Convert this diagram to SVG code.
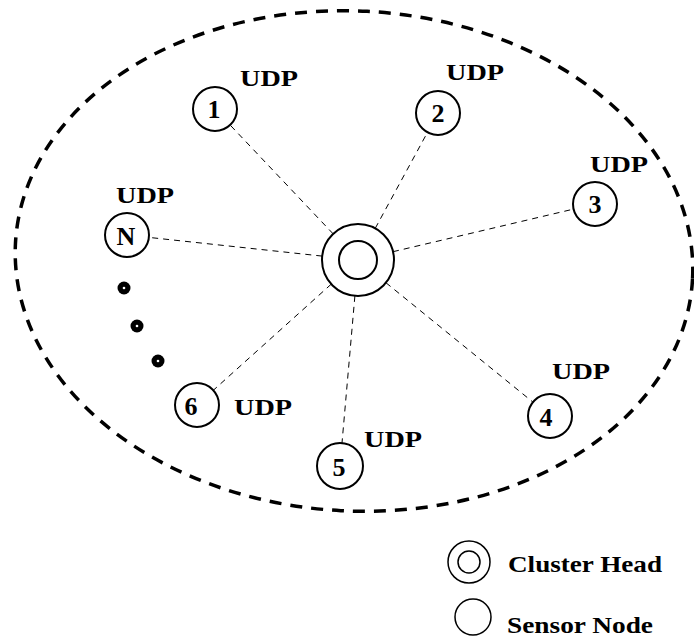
<svg xmlns="http://www.w3.org/2000/svg" width="694" height="637" viewBox="0 0 694 637">
<style>
.bd{fill:none;stroke:#000;stroke-width:3.5;stroke-dasharray:12 9}
.ln{stroke:#000;stroke-width:1;stroke-dasharray:6 5;fill:none}
.nd{fill:#fff;stroke:#000;stroke-width:2}
.lg{fill:#fff;stroke:#000;stroke-width:1.5}
.t{font-family:"Liberation Serif","Times New Roman",Times,serif;font-weight:700;fill:#000}
.udp{font-size:24px}
.num{font-size:26px;text-anchor:middle}
.leg{font-size:24px}
</style>
<ellipse class="bd" cx="354" cy="261" rx="339" ry="250" transform="rotate(3 354 261)"/>
<g id="connectors">
<line class="ln" x1="333.2" y1="233.9" x2="230.1" y2="125"/>
<line class="ln" x1="375.2" y1="228.4" x2="427.5" y2="132.3"/>
<line class="ln" x1="393" y1="251.7" x2="573.6" y2="209.1"/>
<line class="ln" x1="385.9" y1="282.7" x2="532.9" y2="402.1"/>
<line class="ln" x1="354.9" y1="295.9" x2="341.9" y2="444.1"/>
<line class="ln" x1="331.3" y1="284.1" x2="213.3" y2="390.3"/>
<line class="ln" x1="322.2" y1="256.1" x2="148.9" y2="237.4"/>
</g>
<g id="cluster-head">
<circle class="nd" cx="358" cy="260" r="36"/>
<circle class="nd" cx="358" cy="260" r="19"/>
</g>
<g id="node-1">
<circle class="nd" cx="215" cy="109" r="22"/>
<text class="t num" x="214" y="118">1</text>
<text class="t udp" x="240" y="86" textLength="58" lengthAdjust="spacingAndGlyphs">UDP</text>
</g>
<g id="node-2">
<circle class="nd" cx="438" cy="113" r="22"/>
<text class="t num" x="438" y="122">2</text>
<text class="t udp" x="446" y="80" textLength="58" lengthAdjust="spacingAndGlyphs">UDP</text>
</g>
<g id="node-3">
<circle class="nd" cx="595" cy="204" r="22"/>
<text class="t num" x="595" y="213">3</text>
<text class="t udp" x="590" y="172" textLength="58" lengthAdjust="spacingAndGlyphs">UDP</text>
</g>
<g id="node-4">
<circle class="nd" cx="550" cy="416" r="22"/>
<text class="t num" x="546" y="426">4</text>
<text class="t udp" x="552" y="379" textLength="58" lengthAdjust="spacingAndGlyphs">UDP</text>
</g>
<g id="node-5">
<circle class="nd" cx="340" cy="466" r="23"/>
<text class="t num" x="339" y="476">5</text>
<text class="t udp" x="364" y="447" textLength="58" lengthAdjust="spacingAndGlyphs">UDP</text>
</g>
<g id="node-6">
<circle class="nd" cx="197" cy="405" r="22"/>
<text class="t num" x="191" y="415">6</text>
<text class="t udp" x="234" y="415" textLength="58" lengthAdjust="spacingAndGlyphs">UDP</text>
</g>
<g id="node-N">
<circle class="nd" cx="127" cy="235" r="22"/>
<text class="t num" x="126" y="245" style="font-size:26px">N</text>
<text class="t udp" x="116" y="203" textLength="58" lengthAdjust="spacingAndGlyphs">UDP</text>
</g>
<g id="ellipsis">
<circle cx="124" cy="288" r="6.5" fill="#000"/><circle cx="124" cy="288" r="1.3" fill="#fff"/>
<circle cx="137" cy="326" r="6.5" fill="#000"/><circle cx="137" cy="326" r="1.3" fill="#fff"/>
<circle cx="158" cy="361" r="6.5" fill="#000"/><circle cx="158" cy="361" r="1.3" fill="#fff"/>
</g>
<g id="legend-cluster-head">
<circle class="lg" cx="469" cy="562" r="21"/>
<circle class="lg" cx="469" cy="562" r="11"/>
<text class="t leg" x="508" y="572" textLength="154" lengthAdjust="spacingAndGlyphs">Cluster Head</text>
</g>
<g id="legend-sensor-node">
<circle class="lg" cx="473" cy="617" r="18"/>
<text class="t leg" x="507" y="633" textLength="146" lengthAdjust="spacingAndGlyphs">Sensor Node</text>
</g>
</svg>
